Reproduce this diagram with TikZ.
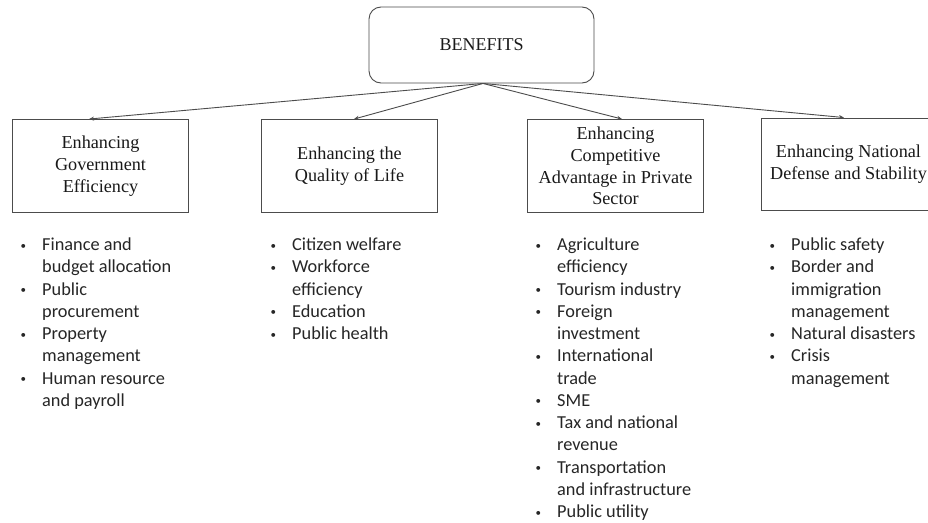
\documentclass[tikz,border=0pt]{standalone}
\usepackage{fontspec}
\setmainfont{Liberation Serif}
\newfontfamily\bulfont{Carlito}
\usetikzlibrary{arrows.meta}
\newcommand\bul{\llap{\makebox[21.5pt][l]{\raisebox{1.6pt}{\fontsize{11}{11}\selectfont\textbullet}}}}
\begin{document}
\begin{tikzpicture}[x=1pt,y=-1pt,
  catbox/.style={draw=black!70, line width=0.9pt, minimum width=176pt, minimum height=93pt,
    inner sep=0pt, align=center, font=\fontsize{18.2}{21.8}\selectfont, text=black!90},
  topbox/.style={draw=black!70, line width=0.9pt, rounded corners=12pt, minimum width=225pt,
    minimum height=76pt, inner sep=0pt, font=\fontsize{18}{21.6}\selectfont, text=black!90},
  link/.style={draw=black!70, line width=0.9pt, -{Stealth[length=5pt,width=4pt]}},
  list/.style={anchor=base west, inner sep=0pt, font=\bulfont\fontsize{18.3}{22.25}\selectfont, text=black!85}]
\clip (0,0) rectangle (928,522);
\fill[white] (0,0) rectangle (928,522);

\node[topbox] (ben) at (481.5,45) {BENEFITS};

\node[catbox] (b1) at (100.5,166) {Enhancing\\Government\\Efficiency};
\node[catbox] (b2) at (349.5,166) {Enhancing the\\Quality of Life};
\node[catbox] (b3) at (615.5,166) {Enhancing\\Competitive\\Advantage in Private\\Sector};
\node[catbox, minimum width=175pt, minimum height=92pt] (b4) at (848.5,164) {Enhancing National\\Defense and Stability};

\draw[link] ([xshift=1.5pt]ben.south) -- ([xshift=-11.5pt]b1.north);
\draw[link] ([xshift=1.5pt]ben.south) -- ([xshift=4.5pt]b2.north);
\draw[link] ([xshift=1.5pt]ben.south) -- ([xshift=6.5pt]b3.north);
\draw[link] ([xshift=1.5pt]ben.south) -- ([xshift=-4.5pt]b4.north);

\node[list] (l1) at (42,250.6) {\begin{tabular}[t]{@{}l@{}}
\bul Finance and\\ budget allocation\\
\bul Public\\ procurement\\
\bul Property\\ management\\
\bul Human resource\\ and payroll
\end{tabular}};

\node[list] (l2) at (292,250.6) {\begin{tabular}[t]{@{}l@{}}
\bul Citizen welfare\\
\bul Workforce\\ efficiency\\
\bul Education\\
\bul Public health
\end{tabular}};

\node[list] (l3) at (557,250.6) {\begin{tabular}[t]{@{}l@{}}
\bul Agriculture\\ efficiency\\
\bul Tourism industry\\
\bul Foreign\\ investment\\
\bul International\\ trade\\
\bul SME\\
\bul Tax and national\\ revenue\\
\bul Transportation\\ and infrastructure\\
\bul Public utility
\end{tabular}};

\node[list] (l4) at (791,250.6) {\begin{tabular}[t]{@{}l@{}}
\bul Public safety\\
\bul Border and\\ immigration\\ management\\
\bul Natural disasters\\
\bul Crisis\\ management
\end{tabular}};
\end{tikzpicture}
\end{document}
